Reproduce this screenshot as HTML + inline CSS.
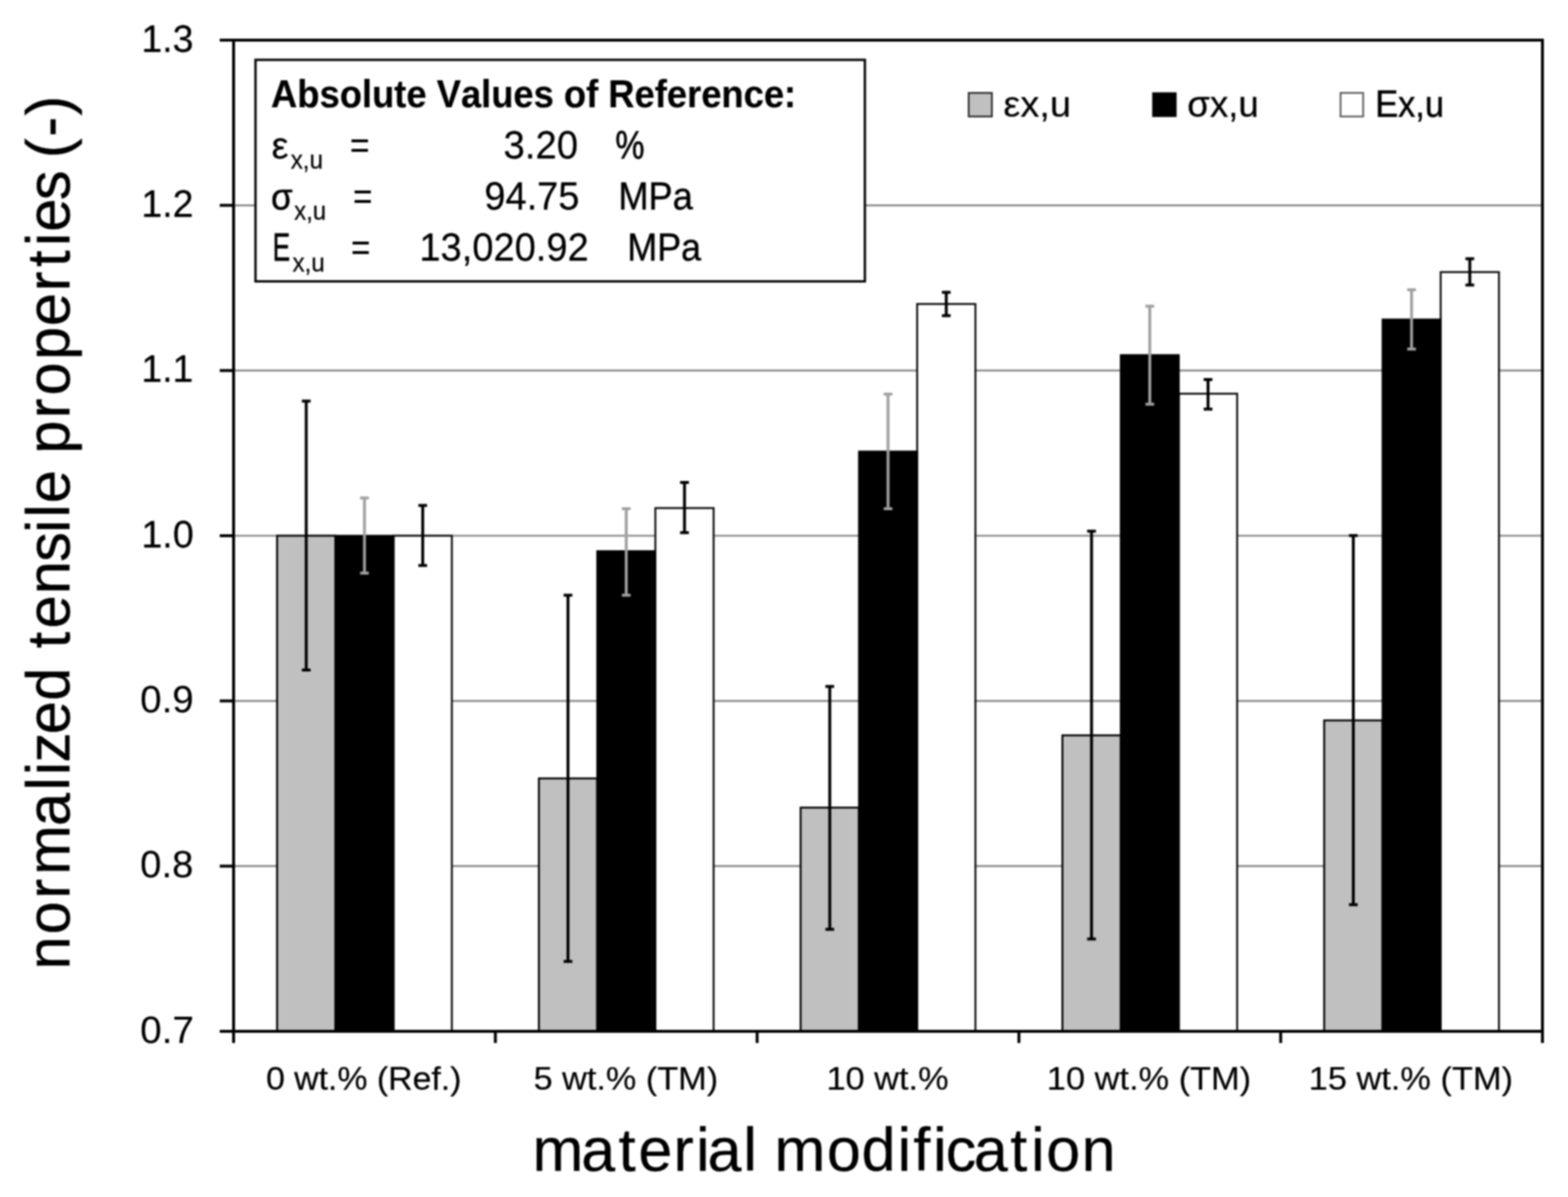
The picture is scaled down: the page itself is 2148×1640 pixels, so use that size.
<!DOCTYPE html>
<html><head><meta charset="utf-8"><title>normalized tensile properties</title>
<style>html,body{margin:0;padding:0;background:#fff;overflow:hidden}svg{display:block;filter:blur(0.8px)}</style>
</head><body>
<svg width="2148" height="1640" viewBox="0 0 2148 1640"><rect x="0" y="0" width="2148" height="1640" fill="#fff"/>
<line x1="320.0" y1="1186.67" x2="2113.0" y2="1186.67" stroke="#8c8c8c" stroke-width="2.6"/>
<line x1="320.0" y1="960.33" x2="2113.0" y2="960.33" stroke="#8c8c8c" stroke-width="2.6"/>
<line x1="320.0" y1="734.00" x2="2113.0" y2="734.00" stroke="#8c8c8c" stroke-width="2.6"/>
<line x1="320.0" y1="507.67" x2="2113.0" y2="507.67" stroke="#8c8c8c" stroke-width="2.6"/>
<line x1="320.0" y1="281.33" x2="2113.0" y2="281.33" stroke="#8c8c8c" stroke-width="2.6"/>
<rect x="539.20" y="734.00" width="79.80" height="679.00" fill="#fff" stroke="#0a0a0a" stroke-width="2.6"/>
<rect x="379.60" y="734.00" width="79.80" height="679.00" fill="#c0c0c0" stroke="#000" stroke-width="2.6"/>
<rect x="458.30" y="732.90" width="82.00" height="680.10" fill="#000"/>
<rect x="897.80" y="696.10" width="79.80" height="716.90" fill="#fff" stroke="#0a0a0a" stroke-width="2.6"/>
<rect x="738.20" y="1066.50" width="79.80" height="346.50" fill="#c0c0c0" stroke="#000" stroke-width="2.6"/>
<rect x="816.90" y="753.90" width="82.00" height="659.10" fill="#000"/>
<rect x="1256.40" y="416.50" width="79.80" height="996.50" fill="#fff" stroke="#0a0a0a" stroke-width="2.6"/>
<rect x="1096.80" y="1106.50" width="79.80" height="306.50" fill="#c0c0c0" stroke="#000" stroke-width="2.6"/>
<rect x="1175.50" y="617.40" width="82.00" height="795.60" fill="#000"/>
<rect x="1615.00" y="539.40" width="79.80" height="873.60" fill="#fff" stroke="#0a0a0a" stroke-width="2.6"/>
<rect x="1455.40" y="1007.50" width="79.80" height="405.50" fill="#c0c0c0" stroke="#000" stroke-width="2.6"/>
<rect x="1534.10" y="485.30" width="82.00" height="927.70" fill="#000"/>
<rect x="1973.60" y="372.80" width="79.80" height="1040.20" fill="#fff" stroke="#0a0a0a" stroke-width="2.6"/>
<rect x="1814.00" y="987.00" width="79.80" height="426.00" fill="#c0c0c0" stroke="#000" stroke-width="2.6"/>
<rect x="1892.70" y="436.50" width="82.00" height="976.50" fill="#000"/>
<path d="M419.50 549.50V917.90M413.50 549.50H425.50M413.50 917.90H425.50" stroke="#000" stroke-width="4" fill="none"/>
<path d="M499.30 682.20V785.20M493.30 682.20H505.30M493.30 785.20H505.30" stroke="#a0a0a0" stroke-width="4" fill="none"/>
<path d="M579.10 692.60V774.80M573.10 692.60H585.10M573.10 774.80H585.10" stroke="#000" stroke-width="4" fill="none"/>
<path d="M778.10 815.40V1317.30M772.10 815.40H784.10M772.10 1317.30H784.10" stroke="#000" stroke-width="4" fill="none"/>
<path d="M857.90 697.00V815.40M851.90 697.00H863.90M851.90 815.40H863.90" stroke="#a0a0a0" stroke-width="4" fill="none"/>
<path d="M937.70 661.00V729.80M931.70 661.00H943.70M931.70 729.80H943.70" stroke="#000" stroke-width="4" fill="none"/>
<path d="M1136.70 940.40V1273.30M1130.70 940.40H1142.70M1130.70 1273.30H1142.70" stroke="#000" stroke-width="4" fill="none"/>
<path d="M1216.50 540.00V697.00M1210.50 540.00H1222.50M1210.50 697.00H1222.50" stroke="#a0a0a0" stroke-width="4" fill="none"/>
<path d="M1296.30 400.50V432.50M1290.30 400.50H1302.30M1290.30 432.50H1302.30" stroke="#000" stroke-width="4" fill="none"/>
<path d="M1495.30 727.70V1286.60M1489.30 727.70H1501.30M1489.30 1286.60H1501.30" stroke="#000" stroke-width="4" fill="none"/>
<path d="M1575.10 419.60V553.80M1569.10 419.60H1581.10M1569.10 553.80H1581.10" stroke="#a0a0a0" stroke-width="4" fill="none"/>
<path d="M1654.90 520.10V560.50M1648.90 520.10H1660.90M1648.90 560.50H1660.90" stroke="#000" stroke-width="4" fill="none"/>
<path d="M1853.90 733.70V1239.50M1847.90 733.70H1859.90M1847.90 1239.50H1859.90" stroke="#000" stroke-width="4" fill="none"/>
<path d="M1933.70 397.00V478.30M1927.70 397.00H1939.70M1927.70 478.30H1939.70" stroke="#a0a0a0" stroke-width="4" fill="none"/>
<path d="M2013.50 354.60V390.50M2007.50 354.60H2019.50M2007.50 390.50H2019.50" stroke="#000" stroke-width="4" fill="none"/>
<path d="M320.0 55.0V1429.0M2113.0 55.0V1429.0" stroke="#000" stroke-width="4" fill="none"/>
<path d="M301.0 55.0H2115.0M301.0 1413.0H2115.0" stroke="#000" stroke-width="4" fill="none"/>
<line x1="301.0" y1="1186.67" x2="320.0" y2="1186.67" stroke="#000" stroke-width="4"/>
<line x1="301.0" y1="960.33" x2="320.0" y2="960.33" stroke="#000" stroke-width="4"/>
<line x1="301.0" y1="734.00" x2="320.0" y2="734.00" stroke="#000" stroke-width="4"/>
<line x1="301.0" y1="507.67" x2="320.0" y2="507.67" stroke="#000" stroke-width="4"/>
<line x1="301.0" y1="281.33" x2="320.0" y2="281.33" stroke="#000" stroke-width="4"/>
<line x1="678.60" y1="1413.0" x2="678.60" y2="1429.0" stroke="#000" stroke-width="4"/>
<line x1="1037.20" y1="1413.0" x2="1037.20" y2="1429.0" stroke="#000" stroke-width="4"/>
<line x1="1395.80" y1="1413.0" x2="1395.80" y2="1429.0" stroke="#000" stroke-width="4"/>
<line x1="1754.40" y1="1413.0" x2="1754.40" y2="1429.0" stroke="#000" stroke-width="4"/>
<rect x="350" y="82" width="834.8" height="303.5" fill="#fff" stroke="#000" stroke-width="3.2"/>
<rect x="1327" y="127.3" width="31.8" height="32.3" fill="#c0c0c0" stroke="#222" stroke-width="2.3"/>
<rect x="1578.4" y="126.5" width="33.4" height="33.8" fill="#000"/>
<rect x="1836.4" y="127.3" width="31" height="32.3" fill="#fff" stroke="#555" stroke-width="2.3"/>
<g font-family="'Liberation Sans', Arial, sans-serif" style="font-kerning:none">
<text transform="matrix(0.9764 0 0 1 193.68 70.50)" font-size="52.5" stroke="#000" stroke-width="0.29">1.3</text>
<text transform="matrix(0.9775 0 0 1 193.67 296.83)" font-size="52.5" stroke="#000" stroke-width="0.28">1.2</text>
<text transform="matrix(0.9743 0 0 1 193.69 523.17)" font-size="52.5" stroke="#000" stroke-width="0.29">1.1</text>
<text transform="matrix(0.9829 0 0 1 193.65 749.50)" font-size="52.5" stroke="#000" stroke-width="0.26">1.0</text>
<text transform="matrix(1.0043 0 0 1 192.10 975.83)" font-size="52.5" stroke="#000" stroke-width="0.17">0.9</text>
<text transform="matrix(0.9965 0 0 1 192.12 1202.17)" font-size="52.5" stroke="#000" stroke-width="0.2">0.8</text>
<text transform="matrix(1.0082 0 0 1 192.09 1428.50)" font-size="52.5" stroke="#000" stroke-width="0.16">0.7</text>
<text transform="matrix(1.0539 0 0 1 1374.42 159.80)" font-size="49.5" stroke="#000" stroke-width="0.2">εx,u</text>
<text transform="matrix(1.0130 0 0 1 1626.49 159.80)" font-size="49.5" stroke="#000" stroke-width="0.35">σx,u</text>
<text transform="matrix(0.9230 0 0 1 1883.94 159.80)" font-size="51.0" stroke="#000" stroke-width="0.62">Ex,u</text>
<text transform="matrix(0.9398 0 0 1 371.36 146.70)" font-size="53" font-weight="bold" stroke="#000" stroke-width="0.25">Absolute Values of Reference:</text>
<text transform="matrix(0.9993 0 0 1 372.12 217.30)" font-size="52" stroke="#000" stroke-width="0.26">ε</text>
<text transform="matrix(0.9644 0 0 1 398.23 231.30)" font-size="34.5" stroke="#000" stroke-width="0.26">x,u</text>
<text transform="matrix(0.8777 0 0 1 479.23 217.30)" font-size="53">=</text>
<text transform="matrix(0.9903 0 0 1 689.70 217.00)" font-size="53" stroke="#000" stroke-width="0.27">3.20</text>
<text transform="matrix(0.8467 0 0 1 843.00 217.00)" font-size="53" stroke="#000" stroke-width="0.8">%</text>
<text transform="matrix(0.9237 0 0 1 371.28 287.00)" font-size="52" stroke="#000" stroke-width="0.58">σ</text>
<text transform="matrix(0.9505 0 0 1 403.03 301.10)" font-size="34.5" stroke="#000" stroke-width="0.3">x,u</text>
<text transform="matrix(0.8660 0 0 1 483.46 287.00)" font-size="53">=</text>
<text transform="matrix(0.9826 0 0 1 663.46 287.40)" font-size="53" stroke="#000" stroke-width="0.3">94.75</text>
<text transform="matrix(0.9376 0 0 1 846.92 287.40)" font-size="53" stroke="#000" stroke-width="0.5">MPa</text>
<text transform="matrix(0.6788 0 0 1 373.55 356.80)" font-size="53" stroke="#000" stroke-width="0.8">E</text>
<text transform="matrix(0.9575 0 0 1 400.83 371.50)" font-size="34.5" stroke="#000" stroke-width="0.28">x,u</text>
<text transform="matrix(0.8660 0 0 1 480.86 356.80)" font-size="53">=</text>
<text transform="matrix(0.9839 0 0 1 574.53 357.10)" font-size="53" stroke="#000" stroke-width="0.3">13,020.92</text>
<text transform="matrix(0.9290 0 0 1 859.16 357.10)" font-size="53" stroke="#000" stroke-width="0.53">MPa</text>
<text transform="matrix(1.0298 0 0 1 364.39 1493.40)" font-size="45" stroke="#000" stroke-width="0.28">0 wt.% (Ref.)</text>
<text transform="matrix(1.0433 0 0 1 730.92 1493.40)" font-size="45" stroke="#000" stroke-width="0.23">5 wt.% (TM)</text>
<text transform="matrix(1.0455 0 0 1 1132.22 1493.40)" font-size="45" stroke="#000" stroke-width="0.23">10 wt.%</text>
<text transform="matrix(1.0463 0 0 1 1434.11 1493.40)" font-size="45" stroke="#000" stroke-width="0.22">10 wt.% (TM)</text>
<text transform="matrix(1.0463 0 0 1 1792.71 1493.40)" font-size="45" stroke="#000" stroke-width="0.22">15 wt.% (TM)</text>
<text transform="matrix(1.0072 0 0 1 0 1604.30)" x="724.17 790.67 841.52 868.26 915.80 946.66 962.34 1011.05 1029.49 1053.30 1124.70 1171.89 1220.62 1242.21 1269.19 1286.16 1324.43 1374.12 1402.39 1422.96 1471.05" y="0" font-size="83" stroke="#000" stroke-width="0.41">material modification</text>
<text transform="matrix(0 -0.9801 1 0 94.70 0)" x="-1355.27 -1306.36 -1256.16 -1222.95 -1154.82 -1105.15 -1083.73 -1065.64 -1026.55 -979.52 -933.36 -906.34 -878.51 -830.54 -785.29 -745.18 -723.70 -703.46 -657.30 -634.04 -584.53 -552.86 -503.08 -455.77 -407.06 -373.21 -344.20 -323.93 -279.81 -238.31 -220.92 -191.18 -161.47" y="0" font-size="83" stroke="#000" stroke-width="0.59">normalized tensile properties (-)</text>
</g></svg>
</body></html>
